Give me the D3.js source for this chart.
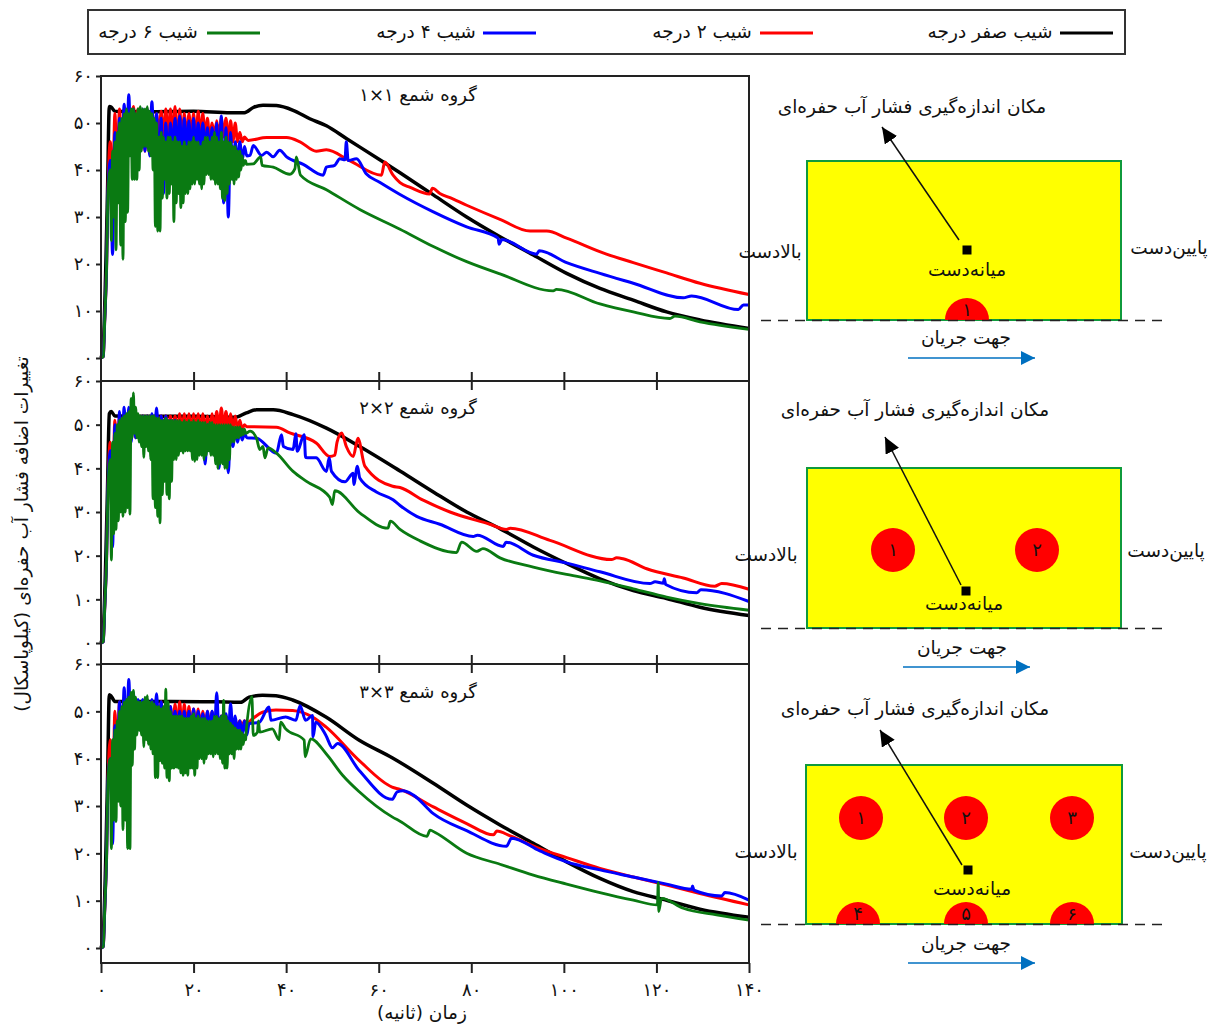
<!DOCTYPE html>
<html>
<head>
<meta charset="utf-8">
<script src="https://cdn.jsdelivr.net/npm/d3@7"></script>
<style>
  html, body { margin: 0; padding: 0; background: #fff; }
  text { font-family: "DejaVu Sans", sans-serif; fill: #111; direction: rtl; }
  .axis path, .axis line { stroke: #222; stroke-width: 2; }
  .axis text { font-size: 18px; direction: ltr; }
</style>
</head>
<body>
<div id="chart"></div>
<script>
// ---- labels
var seriesNames = ['شیب صفر درجه', 'شیب ۲ درجه', 'شیب ۴ درجه', 'شیب ۶ درجه'];
var seriesColors = ['#000000', '#ff0000', '#0000ff', '#0a7a12'];
var seriesWidths = [3.5, 3, 3, 2.8];
var panelTitles = ['گروه شمع ۱×۱', 'گروه شمع ۲×۲', 'گروه شمع ۳×۳'];
var xTicks = [0, 20, 40, 60, 80, 100, 120, 140];
var yTicks = [0, 10, 20, 30, 40, 50, 60];

// ---- start of every curve, [time, pressure]
var riseAll = [[0, 0], [0.5, 0.3], [0.8, 8], [1.2, 19], [1.5, 35]];

// ---- panel 1 (1x1)
var p1Black = [[0, 0], [0.5, 3], [1, 18], [1.4, 35], [1.8, 53.5], [2.2, 53.4], [3, 52.5], [10, 52.4], [20, 52.5], [28, 52.2], [31, 52.2], [32.9, 53.3], [35, 53.8], [37.9, 53.7], [41.5, 52.7], [45.1, 50.9], [48.7, 49.4], [53, 46.7], [61, 41.7], [64.6, 39.4], [71.8, 34.7], [79, 30], [86.2, 25.8], [93.4, 21.9], [100.6, 18], [107.8, 14.8], [115, 12.3], [122.2, 9.8], [129.4, 8.1], [140, 6.3]];
var p1RedHi = [46, 52, 53, 53, 53, 53.5, 53, 52, 53, 52, 52, 52.5, 53, 53, 53.5, 53, 52, 52, 52, 52.5, 52, 51, 50, 50.5, 51, 51, 50.5, 50, 48, 47];
var p1RedLo = [35, 40, 42, 46, 47, 48, 47, 44, 44, 46, 47, 47, 47, 47, 44, 46, 46, 47, 46, 47, 47, 46, 47, 47, 47, 46, 46, 46, 46, 46.5];
var p1RedTail = [[31.8, 46.3], [35.8, 46.9], [40.1, 46.9], [43, 46], [46.5, 44], [48.7, 44.3], [53.7, 42], [60.6, 38.9], [61.3, 41.7], [63.1, 38.9], [64.6, 37.3], [66.8, 36.3], [71, 34.9], [71.6, 36.1], [73.2, 35], [75.4, 34.1], [79, 32.5], [86.2, 29.5], [92.7, 27], [96.3, 27], [100.6, 25.5], [109.2, 22.1], [115, 20.3], [122.2, 18.1], [129.4, 15.9], [140, 13.5]];
var p1BlueHi = [42, 48, 51, 54, 56, 53, 52, 53, 53, 54.5, 52, 51, 50, 50, 51, 51.5, 51, 50.5, 51, 50, 50, 49, 49, 50, 51.5, 49, 48, 46, 46, 45];
var p1BlueLo = [22, 35, 38, 42, 43, 45, 45, 44, 43, 43, 38, 35, 42, 44, 44, 43, 44, 42.5, 44, 44, 44, 43, 43, 40, 33, 30, 38, 41, 42, 43];
var p1BlueTail = [[32.2, 43.1], [32.9, 45.2], [34.7, 43.1], [35.8, 43.8], [37.2, 42.8], [38.6, 44.2], [40.1, 42.8], [43.7, 41.2], [48, 38.9], [48.7, 40.6], [50.5, 41], [51.6, 42.4], [52.7, 42.2], [53, 46], [53.4, 42], [55.2, 42.4], [57.3, 39.2], [60.2, 37.4], [64.6, 34.8], [71.8, 31.1], [79, 27.9], [85.8, 25.5], [86, 24.2], [86.6, 25.2], [94.1, 22.1], [94.7, 22.8], [100.6, 20.3], [107.8, 18], [115, 15.9], [125.8, 12.8], [127.6, 13.2], [137.7, 10.3], [138.8, 11.3], [140, 11.3]];
var p1GreenHi = [40, 44, 46, 48, 50, 51, 52, 53, 52, 53, 53, 52, 53, 53.5, 53, 53, 53.5, 52.5, 52, 51, 50, 47, 48, 47, 46, 47, 47, 46, 47, 46, 46, 45, 46, 45, 46, 46, 47, 46, 46, 45, 46, 47, 47, 46, 47, 48, 47, 46, 48, 46, 47, 46, 46, 45, 45, 44, 44, 43, 42];
var p1GreenLo = [25, 30, 23, 33, 24, 21, 29, 31, 43, 38, 38, 38, 40, 44, 45, 45, 44, 43, 40, 28, 27, 27, 34, 38, 34, 35, 37, 29, 33, 35, 32, 33, 35, 35, 36, 37, 37, 38, 37, 36, 37, 39, 39, 38, 38, 37, 37, 36, 34, 33.5, 35, 37, 38, 37, 38, 38.5, 40, 41, 42];
var p1GreenTail = [[31.4, 41.2], [32.9, 41.3], [34.5, 42.8], [34.8, 41], [37.2, 40.6], [40.8, 39.1], [41.9, 40.3], [42.2, 42.8], [43.1, 38.9], [48.7, 35.8], [55.9, 31.6], [64.6, 27.4], [71.8, 23.7], [79, 20.5], [86.2, 17.9], [97.7, 14.3], [98.4, 14.6], [107.8, 11.5], [115, 9.8], [122.9, 8.4], [124, 8.9], [129.4, 7.7], [140, 6.1]];

// ---- panel 2 (2x2)
var p2Black = [[0, 0], [0.5, 3], [1, 18], [1.4, 35], [1.8, 52.5], [2.2, 53], [3, 52], [10, 51.9], [20, 51.9], [29, 51.7], [31.4, 52.7], [33.6, 53.4], [37.2, 53.4], [41.5, 52.3], [48.7, 49.2], [55.9, 45], [64.6, 39.4], [71.8, 34.6], [79, 30], [86.2, 26.2], [93.4, 22], [100.6, 18.2], [107.8, 14.7], [115, 12], [122.2, 10.2], [129.4, 8.2], [140, 6.3]];
var p2RedHi = [46, 51, 52, 52, 52, 52, 52, 52, 52, 52, 52, 52, 52, 52, 52, 52.5, 52.5, 52.5, 52.5, 52.5, 52.5, 52, 52.5, 53, 53.8, 53, 52.5, 52, 51, 50];
var p2RedLo = [35, 42, 46, 47, 47, 47, 47, 47, 48, 48, 48, 48, 48, 48, 48, 49, 49, 49, 49, 49, 49, 49, 49, 49, 49, 49, 49, 49, 49, 49.5];
var p2RedTail = [[33, 49.5], [37.9, 49.4], [40.8, 48.1], [46.5, 45.8], [49.4, 42.7], [50.5, 43], [51, 46], [52, 48.1], [53, 45], [54.5, 42.7], [55.5, 46.9], [57, 40.5], [63, 35.9], [64.6, 35.6], [69.6, 32.7], [75.4, 30], [84, 27.2], [87.6, 26], [88.4, 26.3], [97, 23.5], [110.3, 19.1], [111.4, 19.5], [112.8, 19.3], [117.9, 17], [125.8, 14.9], [132.6, 13], [134.1, 13.6], [140, 12.3]];
var p2BlueHi = [44, 50, 53, 54, 54, 53, 52, 52, 52, 52.5, 53.8, 52, 52, 51, 51, 50.5, 50, 50, 50, 50, 50, 50, 50, 49.5, 49, 49, 49, 49, 48.5, 48];
var p2BlueLo = [22, 36, 42, 44, 46, 47, 47, 46, 46, 46, 46, 46, 46, 46, 46, 45, 45, 45, 45, 44, 41, 44, 43, 40, 41, 39, 45, 46, 46.5, 47];
var p2BlueTail = [[33.6, 46.9], [37.9, 43.5], [39, 47.7], [39.4, 45], [41.5, 44.3], [42.1, 47.9], [42.4, 43.9], [43.9, 47.7], [44.2, 42.5], [46.5, 42.4], [48.7, 39.3], [49.3, 42.4], [49.8, 39.3], [52.7, 36.9], [54.5, 38.9], [54.6, 36.3], [55.4, 40.5], [55.9, 37.8], [59.5, 34.6], [63.1, 32.8], [64.6, 31.5], [68.2, 29], [73.2, 27.2], [80.4, 24.4], [81.3, 24.7], [86.9, 22.1], [87.5, 23.1], [93.4, 20.1], [100.6, 18.3], [107.8, 16.3], [118.6, 13.6], [119.7, 14], [121.5, 13.7], [121.7, 14.7], [122, 13.4], [128.7, 11.5], [129.6, 12.2], [140, 9.5]];
var p2GreenHi = [42, 46, 48, 50, 51, 51.5, 52, 52.5, 53, 56, 57.3, 54, 52.5, 52, 52, 52, 52, 52, 52, 52, 51.5, 51.5, 51, 51, 51.5, 51, 51, 51, 51, 51, 51, 50.5, 51, 50.5, 51, 50.5, 51, 50.5, 51, 50.5, 50.5, 50.5, 50, 50.5, 50.5, 50, 50, 50, 50, 50, 50, 50, 50, 49.5, 49.5, 49.5, 49.5, 49, 49];
var p2GreenLo = [19, 25, 26, 28, 30, 29, 30, 31, 29.5, 47, 48, 47, 46, 45, 42.5, 45, 44, 42, 33, 31, 29, 27.5, 34, 37, 34, 33, 37, 42, 42, 43, 44, 43.5, 44, 44, 44, 42, 41.6, 42, 43, 43, 42, 43, 44, 43, 43, 41, 40, 41, 41, 40, 40, 42, 46, 46, 47, 47, 47.5, 47.7, 48];
var p2GreenTail = [[32.2, 48.5], [33.6, 46.9], [34.3, 44.3], [35, 45], [35.4, 42.4], [36.1, 44.7], [37.9, 43.5], [41.5, 39.3], [44.4, 37], [49.4, 33.4], [50, 31.7], [50.5, 34.9], [55.9, 29.8], [62, 26.3], [62.5, 27.9], [64.6, 26], [68.9, 23.4], [76.8, 20.7], [77.9, 23.1], [81.2, 21], [82.5, 21.6], [86.2, 19.5], [93.4, 17.4], [100.6, 15.7], [107.8, 14.2], [115, 12.4], [122.2, 10.5], [129.4, 9], [140, 7.5]];

// ---- panel 3 (3x3)
var p3Black = [[0, 0], [0.5, 3], [1, 18], [1.4, 35], [1.8, 53.5], [2.2, 53.2], [3, 52.1], [15, 52.1], [25, 52], [30.2, 51.9], [32, 53], [34.9, 53.4], [37.8, 53.3], [41.4, 52.4], [48.6, 48.8], [55.8, 43.9], [62.9, 40.2], [71.8, 34.8], [79, 30.2], [86.2, 26], [93.4, 22.1], [100.6, 18.2], [107.8, 14.7], [115, 11.9], [122.2, 10.1], [129.4, 8.2], [140, 6.5]];
var p3RedHi = [44, 50, 52, 52.5, 52.5, 52, 52, 52, 52, 52, 52, 52, 51.5, 51, 51.5, 52, 51.5, 51, 50.5, 50.5, 50, 50, 50, 49, 49, 49, 48.5, 48, 48, 48];
var p3RedLo = [30, 40, 44, 46, 47, 47, 46.5, 46, 46, 46, 46, 46, 46, 46, 46, 46, 46, 46, 46, 47, 47, 47, 47, 47, 47, 47, 47, 47, 47, 47.5];
var p3RedTail = [[32.7, 48.4], [34.9, 49.8], [37.8, 50.3], [41.4, 50.2], [45.7, 48.8], [48.6, 46.7], [55.8, 39.6], [62.9, 34], [64.6, 33.5], [71.8, 29.8], [79, 26.3], [84.8, 23.9], [85.5, 24.7], [88.4, 23.7], [94.8, 21], [100.6, 19.1], [107.8, 16.8], [115, 15], [122.2, 13.3], [129.4, 11.5], [140, 9.1]];
var p3BlueHi = [40, 47, 52, 55, 56.7, 54, 52.5, 52.5, 52.5, 52.5, 53.7, 52, 51.5, 51, 50, 50, 50, 50, 50.5, 50, 49.5, 50, 50, 53.9, 49, 49.5, 51.6, 49, 48, 48];
var p3BlueLo = [22, 36, 40, 42, 44, 46, 46, 46, 46, 46, 46, 46, 46, 45.5, 45.5, 45, 44.5, 45, 45, 45, 45, 45, 45, 45, 45, 45, 45, 45.5, 45, 45];
var p3BlueTail = [[32, 47.4], [34.2, 47.7], [36.3, 50.9], [36.7, 48.1], [39.9, 48.8], [42.1, 48.1], [43, 51.2], [44.2, 48.1], [45.7, 49.1], [45.8, 44.6], [46.4, 47.7], [48.6, 44.9], [50, 42.3], [51.1, 43.2], [55.8, 37.5], [62.9, 31.4], [64, 33], [65.2, 33.2], [67.5, 32.3], [71.8, 28.4], [79, 24.8], [87.6, 21.5], [88.7, 23.2], [94.8, 20.5], [100.6, 18.2], [107.8, 16.5], [115, 15], [122.2, 13.5], [127.6, 12.4], [127.8, 13.1], [128.1, 12.2], [134.1, 11], [134.8, 11.7], [140, 10.1]];
var p3GreenHi = [40, 44, 46, 48, 50, 51, 52, 52.5, 53, 54, 54.4, 53, 52, 52, 52, 53, 53.3, 52, 52, 51.5, 51, 51, 50.5, 51, 54.7, 52, 50, 49, 49, 49, 49, 49, 48.5, 48.5, 48.5, 49, 49.5, 48.5, 49, 48.5, 48.5, 48.5, 48, 48, 48, 49, 49, 48.5, 49, 52.3, 49, 48, 47.5, 47, 46.5, 46, 46, 45.5, 45];
var p3GreenLo = [21, 27, 26.7, 31, 30, 25, 27, 21, 21, 38.6, 42, 45, 46, 45, 42.5, 44, 43, 42, 41, 36, 36, 39.6, 39, 38, 36, 35.3, 38, 38, 38.2, 38, 37, 36.5, 37, 36.5, 38, 38, 36.5, 38, 40, 40, 39, 40, 41, 41, 40.4, 41, 41, 40, 39, 38, 38, 41, 41, 40, 42, 42, 42, 43, 44];
var p3GreenTail = [[31.3, 44.7], [32.6, 53.1], [32.9, 44.9], [33.8, 45.6], [34, 48], [34.3, 45.6], [37, 46.3], [38.5, 44], [38.8, 47.7], [39.9, 46.3], [43.9, 43.9], [44.1, 40.4], [45.3, 44.2], [48.6, 41.1], [52.2, 36.5], [55.8, 33], [62.9, 27.7], [64.6, 26.8], [70.4, 23.6], [71.1, 24.9], [72.2, 24.4], [79, 20], [86.2, 17.7], [93.4, 15.4], [100.6, 13.5], [107.8, 11.7], [115, 10.1], [120.2, 9.1], [120.4, 13.8], [120.5, 7.7], [121.1, 10.5], [125.8, 8.4], [133, 7], [140, 5.9]];

// ---- layout
var width = 1218, height = 1024;
var xLeft = 101, xRight = 749;
var textSize = '18.5px';
// y pixel of value 0, value 60 and of the panel floor
var panels = [
  { title: panelTitles[0], zero: 358, top: 76, floor: 381, titleY: 95 },
  { title: panelTitles[1], zero: 643, top: 381, floor: 664, titleY: 408 },
  { title: panelTitles[2], zero: 948, top: 664, floor: 963, titleY: 692 }
];

var toPersian = function(d) {
  return String(d).replace(/\d/g, function(c) { return '۰۱۲۳۴۵۶۷۸۹'[c]; });
};

// 高低包络交替成锯齿线
function zigzag(hi, lo, start, step) {
  var out = [];
  hi.forEach(function(h, i) {
    out.push([start + i * step, h]);
    out.push([start + i * step + step / 2, lo[i]]);
  });
  return out;
}
function curve(hi, lo, step, tail) {
  return riseAll.concat(zigzag(hi, lo, 2, step), tail);
}

var panelSeries = [
  [p1Black, curve(p1RedHi, p1RedLo, 1, p1RedTail), curve(p1BlueHi, p1BlueLo, 1, p1BlueTail), curve(p1GreenHi, p1GreenLo, 0.5, p1GreenTail)],
  [p2Black, curve(p2RedHi, p2RedLo, 1, p2RedTail), curve(p2BlueHi, p2BlueLo, 1, p2BlueTail), curve(p2GreenHi, p2GreenLo, 0.5, p2GreenTail)],
  [p3Black, curve(p3RedHi, p3RedLo, 1, p3RedTail), curve(p3BlueHi, p3BlueLo, 1, p3BlueTail), curve(p3GreenHi, p3GreenLo, 0.5, p3GreenTail)]
];

var svg = d3.select('#chart').append('svg')
  .attr('width', width)
  .attr('height', height)
  .style('display', 'block');

var defs = svg.append('defs');
function marker(id, color, w, h) {
  defs.append('marker')
    .attr('id', id)
    .attr('markerUnits', 'userSpaceOnUse')
    .attr('markerWidth', w)
    .attr('markerHeight', h)
    .attr('refX', w)
    .attr('refY', h / 2)
    .attr('orient', 'auto')
    .append('path')
    .attr('d', 'M0,0L' + w + ',' + (h / 2) + 'L0,' + h + 'Z')
    .attr('fill', color);
}
marker('headBlack', '#000', 16, 15);
marker('headBlue', '#0070c0', 14, 14);

var x = d3.scaleLinear().domain([0, 140]).range([xLeft, xRight]);

// ---- panels
panels.forEach(function(p, k) {
  var perUnit = (p.zero - p.top) / 60;
  var y = d3.scaleLinear()
    .domain([(p.zero - p.floor) / perUnit, 60])
    .range([p.floor, p.top]);

  var g = svg.append('g').attr('class', 'panel');
  var line = d3.line()
    .curve(d3.curveMonotoneX)
    .x(function(d) { return x(d[0]); })
    .y(function(d) { return y(d[1]); });

  g.selectAll('path.series')
    .data(panelSeries[k])
    .enter()
    .append('path')
    .attr('class', 'series')
    .attr('d', line)
    .attr('fill', 'none')
    .attr('stroke', function(d, i) { return seriesColors[i]; })
    .attr('stroke-width', function(d, i) { return seriesWidths[i]; })
    .attr('stroke-linejoin', 'round');

  // frame
  g.append('rect')
    .attr('x', xLeft).attr('y', p.top)
    .attr('width', xRight - xLeft).attr('height', p.floor - p.top)
    .attr('fill', 'none').attr('stroke', '#222').attr('stroke-width', 2);

  // y axis
  var yAxis = d3.axisLeft(y).tickValues(yTicks).tickFormat(toPersian).tickSize(5).tickPadding(3);
  g.append('g').attr('class', 'axis')
    .attr('transform', 'translate(' + xLeft + ',0)')
    .call(yAxis)
    .select('.domain').remove();

  // x ticks on the panel floor
  var inner = k === 2 ? 10 : -9;
  var xAxis = d3.axisBottom(x).tickValues(xTicks.slice(k === 2 ? 0 : 1, k === 2 ? 8 : 7)).tickSize(inner).tickPadding(k === 2 ? 10 : 3);
  if (k === 2) xAxis.tickFormat(toPersian); else xAxis.tickFormat('');
  g.append('g').attr('class', 'axis')
    .attr('transform', 'translate(0,' + p.floor + ')')
    .call(xAxis)
    .select('.domain').remove();

  // the next panel's top edge has the same ticks pointing down
  if (k < 2) {
    var downAxis = d3.axisBottom(x).tickValues(xTicks.slice(1, 7)).tickSize(9).tickFormat('');
    g.append('g').attr('class', 'axis')
      .attr('transform', 'translate(0,' + p.floor + ')')
      .call(downAxis)
      .select('.domain').remove();
  }

  g.append('text')
    .attr('x', 418).attr('y', p.titleY)
    .attr('dy', '0.35em')
    .attr('text-anchor', 'middle')
    .style('font-size', '18px')
    .text(p.title);
});

// axis titles
svg.append('text')
  .attr('transform', 'translate(22,534) rotate(-90)')
  .attr('dy', '0.35em')
  .attr('text-anchor', 'middle')
  .style('font-size', textSize)
  .text('تغییرات اضافه فشار آب حفره‌ای (کیلوپاسکال)');
svg.append('text')
  .attr('x', 422).attr('y', 1013)
  .attr('dy', '0.35em')
  .attr('text-anchor', 'middle')
  .style('font-size', textSize)
  .text('زمان (ثانیه)');

// ---- legend
svg.append('rect')
  .attr('x', 88).attr('y', 10).attr('width', 1037).attr('height', 44)
  .attr('fill', '#fff').attr('stroke', '#333').attr('stroke-width', 2);
var legendLineX = [1060, 760, 483, 207];
var legendTextX = [990, 702, 426, 148];
seriesNames.forEach(function(name, i) {
  svg.append('line')
    .attr('x1', legendLineX[i]).attr('x2', legendLineX[i] + 53)
    .attr('y1', 33).attr('y2', 33)
    .attr('stroke', seriesColors[i]).attr('stroke-width', 3);
  svg.append('text')
    .attr('x', legendTextX[i]).attr('y', 32)
    .attr('dy', '0.35em')
    .attr('text-anchor', 'middle')
    .style('font-size', textSize)
    .text(name);
});

// ---- site sketches on the right
var sketches = [
  { left: 807, right: 1121, top: 161, bottom: 320, noteY: 107, noteX: 912, tip: [882, 127], tail: [959, 240],
    sq: [967, 250], midX: 967, midY: 270, upY: 252, upX: 770, downY: 248, downX: 1169, flowX: 966, flowY: 338, arrowX: 908, arrowY: 358,
    piles: [[967, 320, '۱']] },
  { left: 807, right: 1121, top: 468, bottom: 628, noteY: 410, noteX: 915, tip: [885, 437], tail: [961, 585],
    sq: [966, 591], midX: 964, midY: 604, upY: 555, upX: 766, downY: 551, downX: 1166, flowX: 962, flowY: 648, arrowX: 903, arrowY: 667,
    piles: [[893, 550, '۱'], [1037, 550, '۲']] },
  { left: 806, right: 1122, top: 765, bottom: 924, noteY: 709, noteX: 915, tip: [880, 730], tail: [962, 865],
    sq: [968, 870], midX: 972, midY: 889, upY: 852, upX: 766, downY: 852, downX: 1168, flowX: 966, flowY: 944, arrowX: 908, arrowY: 963,
    piles: [[861, 818, '۱'], [966, 818, '۲'], [1072, 818, '۳'], [858, 924, '۴'], [966, 924, '۵'], [1072, 924, '۶']] }
];
var noteText = 'مکان اندازه‌گیری فشار آب حفره‌ای';

sketches.forEach(function(s, k) {
  var g = svg.append('g').attr('class', 'sketch');
  var clipId = 'soil' + k;
  defs.append('clipPath').attr('id', clipId).append('rect')
    .attr('x', s.left).attr('y', s.top)
    .attr('width', s.right - s.left).attr('height', s.bottom - s.top);

  g.append('rect')
    .attr('x', s.left).attr('y', s.top)
    .attr('width', s.right - s.left).attr('height', s.bottom - s.top)
    .attr('fill', '#ffff00').attr('stroke', '#0f9a3c').attr('stroke-width', 2);

  g.selectAll('circle')
    .data(s.piles)
    .enter()
    .append('circle')
    .attr('cx', function(d) { return d[0]; })
    .attr('cy', function(d) { return d[1]; })
    .attr('r', 22)
    .attr('fill', '#ff0000')
    .attr('clip-path', 'url(#' + clipId + ')');

  g.selectAll('text.pile')
    .data(s.piles)
    .enter()
    .append('text')
    .attr('class', 'pile')
    .attr('x', function(d) { return d[0]; })
    .attr('y', function(d) { return d[1] === s.bottom ? d[1] - 10 : d[1]; })
    .attr('dy', '0.35em')
    .attr('text-anchor', 'middle')
    .style('font-size', '18px')
    .text(function(d) { return d[2]; });

  g.append('line')
    .attr('x1', 761).attr('x2', 1166)
    .attr('y1', s.bottom + 0.5).attr('y2', s.bottom + 0.5)
    .attr('stroke', '#222').attr('stroke-width', 1.5)
    .attr('stroke-dasharray', '10 7');

  g.append('rect')
    .attr('x', s.sq[0] - 4.5).attr('y', s.sq[1] - 4.5)
    .attr('width', 9).attr('height', 9)
    .attr('fill', '#000');

  g.append('line')
    .attr('x1', s.tail[0]).attr('y1', s.tail[1])
    .attr('x2', s.tip[0]).attr('y2', s.tip[1])
    .attr('stroke', '#111').attr('stroke-width', 1.5)
    .attr('marker-end', 'url(#headBlack)');

  g.append('line')
    .attr('x1', s.arrowX).attr('x2', s.arrowX + 127)
    .attr('y1', s.arrowY).attr('y2', s.arrowY)
    .attr('stroke', '#0070c0').attr('stroke-width', 1.5)
    .attr('marker-end', 'url(#headBlue)');

  var label = function(xp, yp, str) {
    g.append('text')
      .attr('x', xp).attr('y', yp)
      .attr('dy', '0.35em')
      .attr('text-anchor', 'middle')
      .style('font-size', textSize)
      .text(str);
  };
  label(s.noteX, s.noteY, noteText);
  label(s.midX, s.midY, 'میانه‌دست');
  label(s.upX, s.upY, 'بالادست');
  label(s.downX, s.downY, 'پایین‌دست');
  label(s.flowX, s.flowY, 'جهت جریان');
});
</script>
</body>
</html>
